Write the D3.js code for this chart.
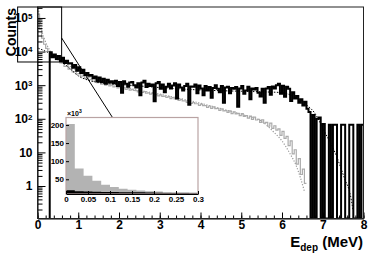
<!DOCTYPE html>
<html>
<head>
<meta charset="utf-8">
<script src="https://cdn.jsdelivr.net/npm/d3@7"></script>
<style>
  body { margin: 0; background: #fff; }
  svg text { font-family: "Liberation Sans", Arial, sans-serif; font-weight: bold; }
</style>
</head>
<body>
<script>
const w = 374;
const h = 257;

// main spectrum, 0.05 MeV bins
const binW = 0.05;
const blackStart = 0.3;
const blackCounts = [
  9500, 6800, 8200, 6000, 7400, 5200, 6500, 4600, 5300, 4400,
  4500, 3300, 4000, 2700, 3400, 2300, 2900, 2000, 2300, 1900,
  2000, 1600, 1800, 1300, 1700, 1250, 1550, 1100, 1450, 1200,
  1300, 1150, 1350, 950, 1250, 600, 1300, 1100, 900, 1200,
  1250, 1000, 850, 1150, 500, 1200, 1350, 880, 1100, 950,
  1050, 330, 1150, 1250, 780, 1050, 620, 900, 1100, 800,
  980, 1150, 400, 1050, 850, 700, 950, 1100, 260, 920,
  900, 1050, 580, 980, 800, 500, 950, 700, 880, 420,
  820, 1000, 780, 620, 950, 300, 850, 900, 580, 820,
  780, 880, 230, 800, 950, 560, 700, 900, 380, 800,
  750, 820, 600, 460, 780, 300, 800, 880, 520, 920,
  800, 1000, 1100, 560, 960, 450, 900, 780, 340, 620,
  400, 480, 300, 380, 250, 320,
  200, 160, 0, 130, 0, 100, 110, 0, 70, 0,
  0, 66, 0, 66, 66, 0, 0, 66, 66, 0,
  0, 66, 66, 0, 0, 66, 0, 66
];
const greyStart = 0;
const greyCounts = [
  130000, 46000, 25000, 16500, 12500, 10200,
  8600, 7200, 7300, 5800, 5600, 4600, 4500, 3600, 3700, 3000,
  3000, 2500, 2550, 2150, 2200, 1850, 1900, 1600, 1680, 1450,
  1480, 1300, 1350, 1200, 1230, 1080, 1140, 1010, 1060, 950,
  1000, 890, 940, 830, 880, 790, 830, 750, 790, 710,
  750, 700, 690, 630, 660, 610, 640, 575, 590, 545,
  575, 530, 520, 480, 515, 465, 470, 430, 455, 400,
  430, 390, 395, 350, 378, 340, 340, 305, 330, 285,
  305, 280, 280, 250, 272, 245, 245, 220, 240, 205,
  225, 200, 205, 178, 198, 172, 176, 155, 172, 142,
  162, 140, 145, 124, 142, 118, 124, 105, 120, 96,
  112, 92, 97, 78, 93, 74, 78, 60, 74, 52,
  62, 46, 50, 32, 42, 26, 30, 16, 22, 9,
  12, 4.5, 6.5, 2.2, 3.2, 1.2
];

// dotted model curves
const greyFitE = [0.02, 0.06, 0.1, 0.18, 0.3, 0.5, 0.75, 1.0, 1.5, 2.0, 2.5, 3.0, 3.5, 4.0, 4.5, 5.0, 5.5, 5.8, 6.0, 6.2, 6.35, 6.45, 6.55];
const greyFitC = [200000, 87000, 45000, 22000, 11000, 6500, 4000, 2500, 1400, 950, 700, 540, 400, 290, 200, 135, 85, 40, 22, 9, 4, 1.8, 0.7];
const blackFitE = [0.02, 0.3, 0.5, 0.75, 1.0, 1.3, 1.6, 2.0, 2.5, 3.0, 4.0, 5.0, 5.6, 6.0, 6.3, 6.6, 6.8, 7.05, 7.3, 7.55, 7.67, 7.74];
const blackFitC = [12600, 8800, 6000, 3500, 1900, 1350, 1150, 1050, 950, 850, 720, 660, 630, 600, 450, 260, 150, 40, 10, 1.5, 0.6, 0.2];

// inset, 0.02 MeV bins, counts in units of 10^3
const insetBinW = 0.02;
const insetGrey = [203, 80, 60, 46, 35, 29, 24, 21, 19, 17, 16, 15, 14.5, 14, 13.5];
const insetBlack = [20, 17, 16, 15.5, 15, 15, 14.5, 14, 14, 13.5, 13, 12.5, 12, 12, 11.5];
const insetXTicks = [0, 0.05, 0.1, 0.15, 0.2, 0.25, 0.3];
const insetYTicks = [50, 100, 150, 200];

// zoom box (data units) and where the leader meets the inset
const zoomBox = { e0: -0.5, e1: 0.58, c0: 4900, c1: 2.12e5, cLead: 25400 };
const leadInsetE = 0.105;

const xTicks = [0, 1, 2, 3, 4, 5, 6, 7, 8];
const yDecades = [1, 10, 100, 1000, 10000, 100000];

const svg = d3.select("body").append("svg")
  .attr("width", w)
  .attr("height", h);

const x = d3.scaleLinear().domain([0, 8]).range([37.5, 363.5]);
const y = d3.scaleLog().domain([0.108, 2.12e5]).range([218.5, 7]).clamp(true);
const yv = v => v > 0 ? y(v) : y.range()[0];

svg.append("clipPath").attr("id", "plotclip")
  .append("rect")
  .attr("x", 37.5).attr("y", 7).attr("width", 326).attr("height", 211.5);

function histPoints(lo, bw, counts, fromBottom) {
  const pts = counts.map((c, i) => [lo + i * bw, c]);
  pts.push([lo + counts.length * bw, counts[counts.length - 1]]);
  if (fromBottom) pts.unshift([lo, 0]);
  return pts;
}

const stepLine = d3.line()
  .x(d => x(d[0]))
  .y(d => yv(d[1]))
  .curve(d3.curveStepAfter);

const smoothLine = d3.line()
  .x(d => x(d[0]))
  .y(d => yv(d[1]))
  .curve(d3.curveMonotoneX);

const plot = svg.append("g").attr("clip-path", "url(#plotclip)");

plot.append("path")
  .attr("d", smoothLine(greyFitE.map((e, i) => [e, greyFitC[i]])))
  .attr("fill", "none")
  .attr("stroke", "#9a9a9a")
  .attr("stroke-width", 1.2)
  .attr("stroke-dasharray", "1.2,1.6");

plot.append("path")
  .attr("d", stepLine(histPoints(greyStart, binW, greyCounts, false)))
  .attr("fill", "none")
  .attr("stroke", "#ababab")
  .attr("stroke-width", 1.2);

plot.append("path")
  .attr("d", stepLine(histPoints(blackStart, binW, blackCounts, true)))
  .attr("fill", "none")
  .attr("stroke", "#000")
  .attr("stroke-width", 2);

plot.append("path")
  .attr("d", smoothLine(blackFitE.map((e, i) => [e, blackFitC[i]])))
  .attr("fill", "none")
  .attr("stroke", "#000")
  .attr("stroke-width", 1)
  .attr("stroke-dasharray", "1.5,1.5");

// axes
const xAxis = svg.append("g")
  .attr("transform", "translate(0,218.5)")
  .call(d3.axisBottom(x).tickValues(xTicks).tickSize(-6).tickSizeOuter(0).tickPadding(2));
xAxis.selectAll("text").attr("font-size", "12px").attr("fill", "#000");

svg.append("g")
  .attr("transform", "translate(0,218.5)")
  .call(d3.axisBottom(x).ticks(40).tickSize(-3).tickSizeOuter(0).tickFormat(""))
  .select(".domain").remove();

const yMinor = [];
for (let k = -1; k <= 5; k++) {
  for (let m = 2; m <= 9; m++) {
    const v = m * Math.pow(10, k);
    if (v >= 0.108 && v <= 2.12e5) yMinor.push(v);
  }
}
svg.append("g")
  .attr("transform", "translate(37.5,0)")
  .call(d3.axisLeft(y).tickValues(yMinor).tickSize(-5).tickSizeOuter(0).tickFormat(""))
  .select(".domain").remove();

const yAxis = svg.append("g")
  .attr("transform", "translate(37.5,0)")
  .call(d3.axisLeft(y).tickValues(yDecades).tickSize(-8).tickSizeOuter(0).tickPadding(5));
yAxis.selectAll(".tick text").each(function(d) {
  const t = d3.select(this).text(null).attr("font-size", "12px").attr("fill", "#000");
  if (d < 100) {
    t.text(String(d));
  } else {
    t.append("tspan").text("10");
    t.append("tspan").attr("dy", "-0.45em").attr("font-size", "8px").text(Math.round(Math.log10(d)));
  }
});

svg.selectAll(".tick line").attr("stroke", "#000");

// frame
svg.append("rect")
  .attr("x", 37.5).attr("y", 7).attr("width", 326).attr("height", 211.5)
  .attr("fill", "none").attr("stroke", "#222").attr("stroke-width", 1);

// titles
svg.append("text")
  .attr("transform", "translate(15.5,8) rotate(-90)")
  .attr("text-anchor", "end")
  .attr("font-size", "14px")
  .text("Counts");

const xt = svg.append("text")
  .attr("x", 363).attr("y", 247)
  .attr("text-anchor", "end")
  .attr("font-size", "15px");
xt.append("tspan").text("E");
xt.append("tspan").attr("font-size", "10px").attr("dy", 4).text("dep");
xt.append("tspan").attr("dy", -4).text(" (MeV)");

// zoom box and leader line
svg.append("rect")
  .attr("x", x(zoomBox.e0) + 0.5)
  .attr("y", y(zoomBox.c1))
  .attr("width", x(zoomBox.e1) - x(zoomBox.e0))
  .attr("height", y(zoomBox.c0) - y(zoomBox.c1))
  .attr("fill", "none").attr("stroke", "#000").attr("stroke-width", 1);

// inset
const ix = d3.scaleLinear().domain([0, 0.3]).range([66, 198]);
const iy = d3.scaleLinear().domain([9.4, 222]).range([194, 117]);

svg.append("line")
  .attr("x1", x(zoomBox.e1) + 0.5).attr("y1", y(zoomBox.cLead))
  .attr("x2", ix(leadInsetE)).attr("y2", iy(222))
  .attr("stroke", "#000").attr("stroke-width", 1);

const inset = svg.append("g");
inset.append("rect")
  .attr("x", 66).attr("y", 117).attr("width", 132).attr("height", 77)
  .attr("fill", "#fff");

const insetArea = d3.area()
  .x(d => ix(d[0]))
  .y0(iy.range()[0])
  .y1(d => iy(d[1]))
  .curve(d3.curveStepAfter);
const insetPts = arr => {
  const p = arr.map((c, i) => [i * insetBinW, c]);
  p.push([arr.length * insetBinW, arr[arr.length - 1]]);
  return p;
};

inset.append("path").attr("d", insetArea(insetPts(insetGrey))).attr("fill", "#b3b3b3");
inset.append("path").attr("d", insetArea(insetPts(insetBlack))).attr("fill", "#000");

inset.append("rect")
  .attr("x", 66).attr("y", 117.5).attr("width", 132).attr("height", 76.5)
  .attr("fill", "none").attr("stroke", "#b9a3a3").attr("stroke-width", 1.2);

const ixAxis = inset.append("g")
  .attr("transform", "translate(0,194)")
  .call(d3.axisBottom(ix).tickValues(insetXTicks).tickSize(-3).tickSizeOuter(0).tickPadding(2)
    .tickFormat(d => String(+d.toFixed(2))));
ixAxis.select(".domain").attr("stroke", "#000");
ixAxis.selectAll("text").attr("font-size", "8px").attr("fill", "#000");

const iyAxis = inset.append("g")
  .attr("transform", "translate(66,0)")
  .call(d3.axisLeft(iy).tickValues(insetYTicks).tickSize(-3).tickSizeOuter(0).tickPadding(2));
iyAxis.select(".domain").remove();
iyAxis.selectAll("text").attr("font-size", "8px").attr("fill", "#000");

const mult = inset.append("text")
  .attr("x", 67).attr("y", 115.5)
  .attr("font-size", "7px")
  .attr("font-weight", "normal");
mult.append("tspan").text("\u00d710");
mult.append("tspan").attr("dy", -3).attr("font-size", "5px").text("3");
</script>
</body>
</html>
